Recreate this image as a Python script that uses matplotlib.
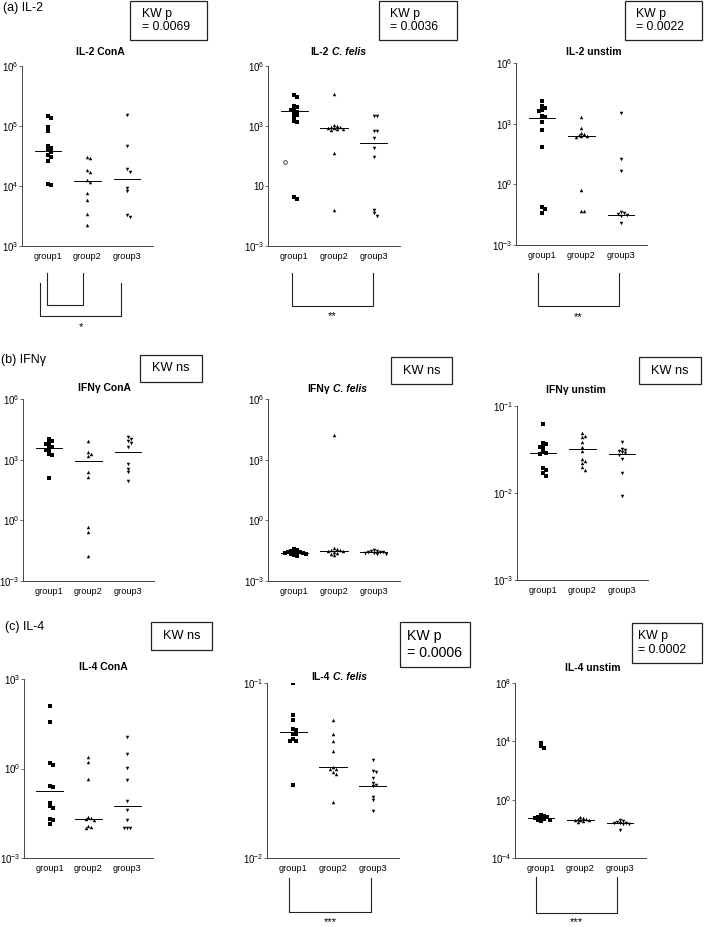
import matplotlib
matplotlib.use('Agg')
import matplotlib.pyplot as plt
import matplotlib.transforms as mtransforms
from matplotlib.lines import Line2D
from matplotlib.patches import Rectangle
from matplotlib.ticker import FixedLocator, FixedFormatter, NullLocator
import numpy as np

plt.rcParams['font.family'] = ['Liberation Sans', 'DejaVu Sans']
plt.rcParams['mathtext.fontset'] = 'custom'
plt.rcParams['mathtext.rm'] = 'Liberation Sans'
plt.rcParams['mathtext.it'] = 'Liberation Sans:italic'
plt.rcParams['mathtext.bf'] = 'Liberation Sans:bold'

W, H = 705, 927
groups = ['group1', 'group2', 'group3']

il2_cona = [[5.17, 5.14, 4.99, 4.91, 4.66, 4.63, 4.60, 4.57, 4.52, 4.49, 4.41, 4.04, 4.02],
            [4.49, 4.46, 4.27, 4.24, 4.10, 4.07, 3.88, 3.77, 3.54, 3.35],
            [5.18, 4.66, 4.28, 4.24, 3.96, 3.91, 3.52, 3.48]]
il2_cona_med = [4.59, 4.09, 4.11]

il2_cfelis = [[4.55, 4.43, 4.00, 3.93, 3.83, 3.80, 3.72, 3.67, 3.55, 3.43, 3.27, 3.22, -0.53, -0.65],
              [4.60, 3.05, 3.00, 2.97, 2.93, 2.90, 2.88, 2.85, 2.83, 2.80, 1.63, -1.20],
              [3.50, 3.48, 2.77, 2.75, 2.38, 1.88, 1.43, -1.20, -1.37, -1.48]]
il2_cfelis_open = [1.18]  # open circle beside group1
il2_cfelis_med = [3.75, 2.88, 2.13]

il2_unstim = [[4.10, 3.85, 3.77, 3.69, 3.64, 3.39, 3.32, 3.10, 2.70, 1.83, -1.10, -1.24, -1.40],
              [3.32, 2.78, 2.55, 2.50, 2.43, 2.40, 2.37, 2.36, -0.28, -1.30, -1.33],
              [3.55, 1.24, 0.68, -1.39, -1.44, -1.49, -1.52, -1.57, -1.93]]
il2_unstim_med = [3.27, 2.40, -1.52]

ifng_cona = [[4.00, 3.90, 3.80, 3.78, 3.65, 3.62, 3.50, 3.48, 3.30, 3.25, 2.10],
             [3.90, 3.40, 3.30, 3.20, 2.40, 2.15, -0.33, -0.58, -1.74],
             [4.10, 4.00, 3.90, 3.80, 3.65, 2.80, 2.55, 2.40, 1.94]]
ifng_cona_med = [3.56, 2.92, 3.36]

ifng_cfelis = [[-1.42, -1.48, -1.52, -1.55, -1.57, -1.58, -1.60, -1.62, -1.63, -1.65, -1.68, -1.72, -1.78],
               [4.20, -1.38, -1.42, -1.45, -1.48, -1.50, -1.52, -1.55, -1.62, -1.68, -1.70],
               [-1.45, -1.50, -1.53, -1.55, -1.56, -1.58, -1.60, -1.62, -1.65, -1.66]]
ifng_cfelis_med = [-1.60, -1.52, -1.57]

ifng_unstim = [[-1.21, -1.43, -1.44, -1.47, -1.47, -1.52, -1.54, -1.55, -1.71, -1.73, -1.77, -1.80],
               [-1.31, -1.34, -1.36, -1.41, -1.47, -1.52, -1.61, -1.63, -1.66, -1.70, -1.73],
               [-1.41, -1.49, -1.50, -1.52, -1.53, -1.54, -1.56, -1.61, -1.77, -2.04]]
ifng_unstim_med = [-1.54, -1.49, -1.55]

il4_cona = [[2.10, 1.57, 0.20, 0.12, -0.58, -0.62, -1.14, -1.27, -1.33, -1.70, -1.74, -1.86],
            [0.40, 0.23, -0.36, -1.63, -1.66, -1.68, -1.71, -1.94, -1.97, -2.00],
            [1.04, 0.50, 0.01, -0.38, -1.10, -1.38, -1.74, -1.98, -2.00, -2.00]]
il4_cona_med = [-0.77, -1.69, -1.27]

il4_cfelis = [[-1.00, -1.18, -1.21, -1.26, -1.27, -1.29, -1.29, -1.32, -1.33, -1.33, -1.58],
              [-1.21, -1.29, -1.33, -1.39, -1.48, -1.49, -1.49, -1.51, -1.52, -1.68],
              [-1.44, -1.50, -1.51, -1.54, -1.57, -1.58, -1.59, -1.65, -1.67, -1.73]]
il4_cfelis_med = [-1.28, -1.48, -1.59]

il4_unstim = [[3.89, 3.66, 3.54, -1.03, -1.10, -1.19, -1.22, -1.26, -1.28, -1.33, -1.37, -1.42, -1.49],
              [-1.22, -1.28, -1.32, -1.35, -1.37, -1.40, -1.42, -1.48, -1.55],
              [-1.40, -1.48, -1.52, -1.57, -1.60, -1.62, -1.65, -1.68, -2.06]]
il4_unstim_med = [-1.26, -1.37, -1.60]

# y ticks (log10) and their printed labels
ticks_a1 = [3, 4, 5, 6]
labels_a1 = ['$10^{3}$', '$10^{4}$', '$10^{5}$', '$10^{6}$']
ticks_9dec = [-3, 0, 3, 6]
labels_9dec = ['$10^{-3}$', '$10^{0}$', '$10^{3}$', '$10^{6}$']
labels_a2 = ['$10^{-3}$', '10', '$10^{3}$', '$10^{6}$']
ticks_b3 = [-3, -2, -1]
labels_b3 = ['$10^{-3}$', '$10^{-2}$', '$10^{-1}$']
ticks_c1 = [-3, 0, 3]
labels_c1 = ['$10^{-3}$', '$10^{0}$', '$10^{3}$']
ticks_c2 = [-2, -1]
labels_c2 = ['$10^{-2}$', '$10^{-1}$']
ticks_c3 = [-4, 0, 4, 8]
labels_c3 = ['$10^{-4}$', '$10^{0}$', '$10^{4}$', '$10^{8}$']

fig = plt.figure(figsize=(W / 100, H / 100), dpi=100)


def fx(px):
    return px / W


def fy(py):
    return 1 - py / H


def swarm(vals, span, step=0.075, gap=0.016):
    placed, offs = [], []
    cands = [0.0] + [s * i * step for i in range(1, 8) for s in (1, -1)]
    for v in vals:
        y = v / span
        for c in cands:
            if all(abs(c - o) > step * 0.9 or abs(y - py) > gap for o, py in placed):
                break
        placed.append((c, y))
        offs.append(c)
    return np.array(offs)


markers = ['s', '^', 'v']
msizes = [2.2, 2.5, 2.5]


def panel(box, data, meds, ticks, labels):
    l, t, r, b = box
    ax = fig.add_axes([fx(l), fy(b), (r - l) / W, (b - t) / H])
    lo, hi = ticks[0], ticks[-1]
    for i, vals in enumerate(data):
        vals = np.array(vals)
        offs = swarm(vals, hi - lo)
        ax.plot(i + 1 + offs, 10 ** vals, ls='none', marker=markers[i],
                ms=msizes[i], color='black', mew=0)
        ax.plot([i + 1 - 0.34, i + 1 + 0.34], [10 ** meds[i]] * 2,
                color='black', lw=0.7)
    ax.set_yscale('log')
    ax.set_ylim(10.0 ** lo, 10.0 ** hi)
    ax.set_xlim(0.342, 3.659)
    ax.yaxis.set_major_locator(FixedLocator([10.0 ** k for k in ticks]))
    ax.yaxis.set_major_formatter(FixedFormatter(labels))
    ax.yaxis.set_minor_locator(NullLocator())
    ax.set_xticks([1, 2, 3], groups)
    ax.tick_params(axis='x', length=0, pad=4, labelsize=6.6)
    ax.tick_params(axis='y', length=2, width=0.6, pad=0.5, labelsize=7,
                   color='#555555')
    for s in ('top', 'right'):
        ax.spines[s].set_visible(False)
    for s in ('left', 'bottom'):
        ax.spines[s].set_linewidth(0.7)
        ax.spines[s].set_color('#444444')
    return ax


ax_a1 = panel((22, 66, 153, 246), il2_cona, il2_cona_med, ticks_a1, labels_a1)
ax_a2 = panel((268, 66, 400, 246), il2_cfelis, il2_cfelis_med, ticks_9dec, labels_a2)
ax_a2.plot([1 - 0.23], [10 ** il2_cfelis_open[0]], ls='none', marker='o', ms=2.6,
           mfc='white', mec='black', mew=0.5)
ax_a3 = panel((516, 63, 647, 245), il2_unstim, il2_unstim_med, ticks_9dec, labels_9dec)
ax_b1 = panel((23, 399, 154, 581), ifng_cona, ifng_cona_med, ticks_9dec, labels_9dec)
ax_b2 = panel((268, 399, 400, 581), ifng_cfelis, ifng_cfelis_med, ticks_9dec, labels_9dec)
ax_b3 = panel((517, 406, 648, 580), ifng_unstim, ifng_unstim_med, ticks_b3, labels_b3)
ax_c1 = panel((24, 679, 153, 858), il4_cona, il4_cona_med, ticks_c1, labels_c1)
ax_c2 = panel((267, 683, 399, 858), il4_cfelis, il4_cfelis_med, ticks_c2, labels_c2)
ax_c3 = panel((515, 683, 646, 858), il4_unstim, il4_unstim_med, ticks_c3, labels_c3)

# panel titles
tkw = dict(fontsize=7.5, fontweight='bold', va='center')
fig.text(fx(100), fy(52), 'IL-2 ConA', ha='center', **tkw)
fig.text(fx(329), fy(52), 'IL-2', ha='right', **tkw)
fig.text(fx(332), fy(52), 'C. felis', ha='left', style='italic', **tkw)
fig.text(fx(594), fy(52), 'IL-2 unstim', ha='center', **tkw)
fig.text(fx(105), fy(388), 'IFNγ ConA', ha='center', **tkw)
fig.text(fx(330), fy(389), 'IFNγ', ha='right', **tkw)
fig.text(fx(333), fy(389), 'C. felis', ha='left', style='italic', **tkw)
fig.text(fx(576), fy(390), 'IFNγ unstim', ha='center', **tkw)
fig.text(fx(103), fy(667), 'IL-4 ConA', ha='center', **tkw)
fig.text(fx(330), fy(677), 'IL-4', ha='right', **tkw)
fig.text(fx(333), fy(677), 'C. felis', ha='left', style='italic', **tkw)
fig.text(fx(593), fy(668), 'IL-4 unstim', ha='center', **tkw)

# section labels
fig.text(fx(3), fy(8), '(a) IL-2', fontsize=9, va='center')
fig.text(fx(1), fy(360), '(b) IFNγ', fontsize=9, va='center')
fig.text(fx(5), fy(627), '(c) IL-4', fontsize=9, va='center')

# Kruskal-Wallis boxes: (left, top, right, bottom), text, fontsize, text inset
kw_boxes = [((130, 1, 207, 40), 'KW p\n= 0.0069', 8.8, 12),
            ((379, 1, 457, 40), 'KW p\n= 0.0036', 8.8, 11),
            ((625, 1, 702, 40), 'KW p\n= 0.0022', 8.8, 11),
            ((140, 355, 202, 382), 'KW ns', 9.2, 0),
            ((391, 357, 452, 384), 'KW ns', 9.2, 0),
            ((639, 357, 701, 384), 'KW ns', 9.2, 0),
            ((151, 622, 212, 650), 'KW ns', 9.2, 0),
            ((400, 622, 470, 667), 'KW p\n= 0.0006', 10.2, 7),
            ((632, 623, 702, 663), 'KW p\n= 0.0002', 8.8, 6)]
for (l, t, r, b), txt, fs, inset in kw_boxes:
    fig.add_artist(Rectangle((fx(l), fy(b)), (r - l) / W, (b - t) / H,
                             transform=fig.transFigure, fill=False,
                             edgecolor='#222222', lw=0.9))
    if '\n' in txt:
        fig.text(fx(l + inset), fy((t + b) / 2), txt, fontsize=fs, ha='left',
                 va='center', linespacing=1.2)
    else:
        fig.text(fx((l + r) / 2), fy((t + b) / 2), txt, fontsize=fs,
                 ha='center', va='center')


# significance brackets: x0, x1 in group units, top and bottom in pixels
def bracket(ax, x0, x1, top, bottom, star=None, star_y=None):
    trans = mtransforms.blended_transform_factory(ax.transData, fig.transFigure)
    fig.add_artist(Line2D([x0, x0, x1, x1], [fy(top), fy(bottom), fy(bottom), fy(top)],
                          transform=trans, color='#222222', lw=0.8))
    if star:
        fig.text((x0 + x1) / 2, fy(star_y), star, fontsize=8, ha='center',
                 va='top', transform=trans)


bracket(ax_a1, 0.975, 1.886, 273, 305)
bracket(ax_a1, 0.80, 2.85, 283, 316, '*', 322)
bracket(ax_a2, 0.95, 2.97, 273, 306, '**', 311)
bracket(ax_a3, 0.90, 2.95, 273, 306, '**', 312)
bracket(ax_c2, 0.90, 2.95, 878, 912, '***', 917)
bracket(ax_c3, 0.88, 2.93, 877, 913, '***', 917)

fig.savefig('out.png', dpi=100)
